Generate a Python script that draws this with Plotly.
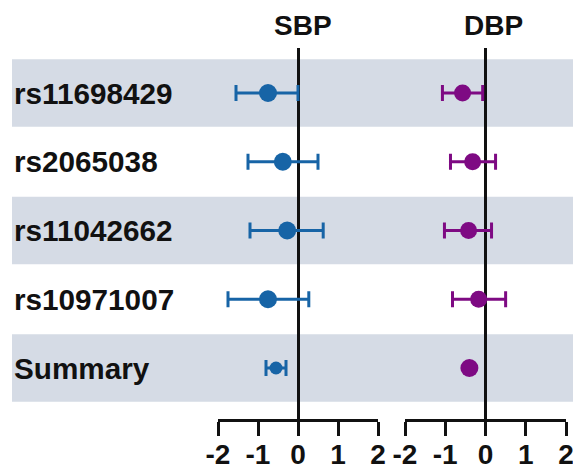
import plotly.graph_objects as go

rows = ["rs11698429", "rs2065038", "rs11042662", "rs10971007", "Summary"]
sbp_est = [-0.75, -0.38, -0.27, -0.75, -0.55]
sbp_lo = [-1.55, -1.25, -1.2, -1.75, -0.8]
sbp_hi = [0.0, 0.5, 0.63, 0.27, -0.3]
dbp_est = [-0.57, -0.32, -0.42, -0.17, -0.4]
dbp_lo = [-1.07, -0.87, -1.02, -0.82, -0.4]
dbp_hi = [-0.07, 0.25, 0.15, 0.5, -0.4]
tick_vals = [-2, -1, 0, 1, 2]
tick_text = ["-2", "-1", "0", "1", "2"]

W, H = 581, 470
OFF = 8  # page body margin; layout pixels below are given in screen coords
BLUE = "#1764a6"
PURPLE = "#7e0a83"
BAND = "#d5dbe5"
FONT = "Liberation Sans, Arial, sans-serif"

def px_x(p):
    return (p - OFF) / W

def px_y(p):
    return (H - (p - OFF)) / H

ypos = list(range(len(rows)))

fig = go.Figure()

def add_series(est, lo, hi, color, xa, sizes):
    plus = [h - e for e, h in zip(est, hi)]
    minus = [e - l for e, l in zip(est, lo)]
    fig.add_trace(go.Scatter(
        x=est, y=ypos, mode="markers", xaxis=xa, yaxis="y",
        marker=dict(color=color, size=sizes, opacity=1, line=dict(width=0)),
        error_x=dict(type="data", symmetric=False, array=plus, arrayminus=minus,
                     color=color, thickness=3, width=8),
        showlegend=False, hoverinfo="skip",
    ))

add_series(sbp_est, sbp_lo, sbp_hi, BLUE, "x", [18, 18, 18, 18, 13])
add_series(dbp_est, dbp_lo, dbp_hi, PURPLE, "x2", [17, 17, 17, 17, 18])

step = 68.75
top_px, bot_px = 48, 419
y_top = (top_px - 93) / step
y_bot = (bot_px - 93) / step

shapes = []
for k in range(len(rows)):
    if k % 2 == 0:
        shapes.append(dict(type="rect", xref="paper", yref="y",
                           x0=px_x(12), x1=1.05, y0=k - 0.49, y1=k + 0.49,
                           fillcolor=BAND, line=dict(width=0), layer="below"))

axis_common = dict(
    range=[-2, 2], tickvals=tick_vals, ticktext=tick_text,
    showgrid=False, zeroline=True, zerolinecolor="#111111", zerolinewidth=3,
    showline=True, linecolor="#111111", linewidth=3,
    ticks="outside", ticklen=14, tickwidth=3, tickcolor="#111111",
    ticklabelstandoff=-6,
    tickfont=dict(family=FONT, size=28, color="#111111", weight="bold"),
    anchor="y", fixedrange=True, automargin=False,
)

fig.update_layout(
    template="none",
    width=W, height=H, autosize=False,
    margin=dict(l=0, r=0, t=0, b=0, pad=0),
    paper_bgcolor="white", plot_bgcolor="rgba(0,0,0,0)",
    xaxis=dict(domain=[px_x(218), px_x(378)], **axis_common),
    xaxis2=dict(domain=[px_x(405), px_x(566)], **axis_common),
    yaxis=dict(range=[y_bot, y_top], domain=[px_y(bot_px), px_y(top_px)],
               visible=False, fixedrange=True, automargin=False),
    shapes=shapes,
)

annotations = []
for k, name in enumerate(rows):
    annotations.append(dict(text=name, xref="paper", yref="y", x=px_x(12), y=k,
                            xanchor="left", yanchor="middle", showarrow=False,
                            font=dict(family=FONT, size=29.7, color="#111111", weight="bold")))
annotations.append(dict(text="SBP", xref="x", yref="paper", x=0.12, y=px_y(25),
                        xanchor="center", yanchor="middle", showarrow=False,
                        font=dict(family=FONT, size=28, color="#111111", weight="bold")))
annotations.append(dict(text="DBP", xref="x2", yref="paper", x=0.2, y=px_y(25),
                        xanchor="center", yanchor="middle", showarrow=False,
                        font=dict(family=FONT, size=28, color="#111111", weight="bold")))
fig.update_layout(annotations=annotations)

fig.write_html("out.html")
